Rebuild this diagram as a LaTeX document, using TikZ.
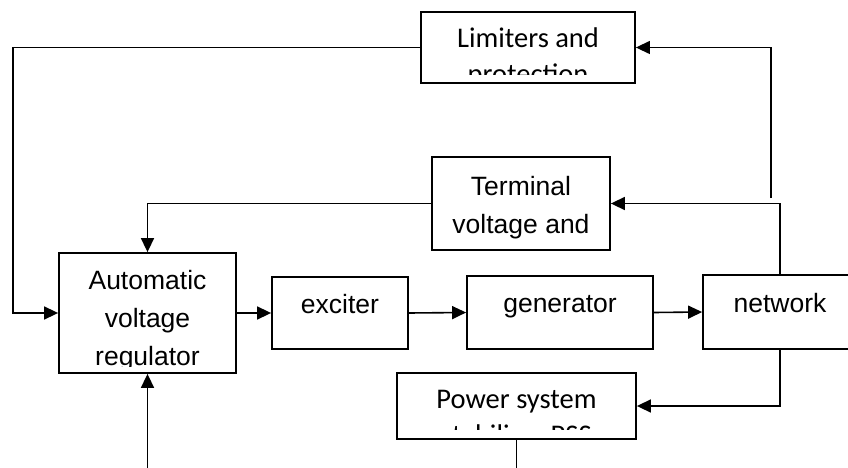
\documentclass[tikz,border=0pt]{standalone}
\usepackage{fontspec}
\setmainfont{Liberation Sans}
\newfontfamily\calibfont{Carlito}
\usetikzlibrary{arrows.meta}
\newcommand\labfont{\fontsize{26.5}{38}\selectfont}
\newcommand\labfontc{\calibfont\fontsize{28.5}{35.5}\selectfont}
\tikzset{
  box/.style={draw, line width=1.8pt, inner sep=0pt},
  lbl/.style={anchor=north, inner sep=0pt, align=center, font=\labfont},
  lblc/.style={anchor=north, inner sep=0pt, align=center, font=\labfontc},
  conn/.style={line width=1.6pt, -{Triangle[length=14pt,width=13pt]}},
  plain/.style={line width=1.5pt},
}
\begin{document}
\begin{tikzpicture}[x=1pt, y=-1pt]
\useasboundingbox (0,0) rectangle (848,468);
\fill[white] (0,0) rectangle (848,468);

% boxes
\node[box, minimum width=214pt, minimum height=71pt] (lim) at (528,47.5) {};
\node[box, minimum width=178pt, minimum height=93pt] (term) at (521,203.5) {};
\node[box, minimum width=177pt, minimum height=120pt] (avr) at (147.5,313) {};
\node[box, minimum width=136pt, minimum height=72pt] (exc) at (340,313) {};
\node[box, minimum width=186pt, minimum height=73pt] (gen) at (560,312.5) {};
\node[box, minimum width=154pt, minimum height=74pt] (net) at (780,312) {};
\node[box, minimum width=239pt, minimum height=66pt] (pss) at (516.5,406) {};

% texts (clipped like the original text frames)
\begin{scope}
  \clip (421,12) rectangle (635,75);
  \node[lblc] (limtext) at (528,22.9) {\strut Limiters and\\\strut protection};
\end{scope}
\begin{scope}
  \clip (432,157) rectangle (610,250);
  \node[lbl] (termtext) at (521,168.4) {\strut Terminal\\\strut voltage and};
\end{scope}
\begin{scope}
  \clip (59,253) rectangle (236,366.5);
  \node[lbl] (avrtext) at (147.5,262.7) {\strut Automatic\\\strut voltage\\\strut regulator};
\end{scope}
\node[lbl] (exctext) at (340,286.7) {\strut exciter};
\node[lbl] (gentext) at (560,286.1) {\strut generator};
\node[lbl] (nettext) at (780,285.4) {\strut network};
\begin{scope}
  \clip (397,373) rectangle (636,429.5);
  \node[lblc] (psstext) at (516.5,383.9) {\strut Power system\\\strut stabilizer PSS};
\end{scope}

% helper coordinates
\coordinate (lx) at (13,0);
\coordinate (netfb) at (771,198);
\coordinate (ntop) at ([xshift=78pt]net.north west);
\coordinate (nbot) at ([xshift=78pt]net.south west);
\coordinate (avrin) at (147.5,470);
\coordinate (pssout) at (516.5,470);

% connectors
\draw[conn] (lim.west) -- (lim.west -| lx) |- (avr.west);
\draw[conn, line width=1.3pt] (netfb) |- (lim.east);
\draw[conn] (ntop) |- (term.east);
\draw[conn] (term.west) -| (avr.north);
\draw[conn] (avr.east) -- (exc.west);
\draw[conn] (exc.east) -- (gen.west);
\draw[conn] (gen.east) -- (net.west);
\draw[conn] (nbot) |- (pss.east);
\draw[conn] (avrin) -- (avr.south);
\draw[plain] (pss.south) -- (pssout);
\end{tikzpicture}
\end{document}
